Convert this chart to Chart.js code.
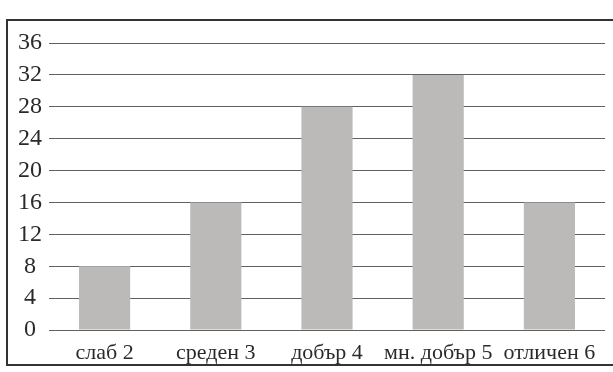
<!DOCTYPE html>
<html>
<head>
<meta charset="utf-8">
<script src="https://cdn.jsdelivr.net/npm/chart.js@4.4.0/dist/chart.umd.min.js"></script>
<style>
  body { margin: 0; background: #fff; }
  #wrap { position: relative; width: 613px; height: 372px; overflow: hidden; }
  #frame { position: absolute; left: 6px; top: 19px; width: 640px; height: 347px;
           border: 2px solid #333; box-sizing: border-box; pointer-events: none; }
</style>
</head>
<body>
<div id="wrap">
  <canvas id="Chart" width="613" height="372"></canvas>
  <div id="frame"></div>
</div>
<script>
// grades and number of students per grade
const grades = ['слаб 2', 'среден 3', 'добър 4', 'мн. добър 5', 'отличен 6'];
const counts = [8, 16, 28, 32, 16];
const yTicks = [0, 4, 8, 12, 16, 20, 24, 28, 32, 36];

const canvas = document.getElementById('Chart');
const ctx = canvas.getContext('2d');

var myChart = new Chart(ctx, {
  type: 'bar',
  data: {
    labels: grades,
    datasets: [{
      data: counts,
      backgroundColor: '#bcb9b9',
      borderWidth: 0,
      categoryPercentage: 1,
      barPercentage: 0.46
    }]
  },
  options: {
    responsive: false,
    animation: false,
    layout: { padding: { top: 43, left: 18, right: 8, bottom: 5 } },
    plugins: { legend: { display: false }, tooltip: { enabled: false } },
    scales: {
      x: {
        grid: { display: false, drawTicks: false },
        border: { display: false },
        afterFit: axis => { axis.height = 37; },
        ticks: {
          color: '#2a2a2a',
          font: { family: 'Liberation Serif', size: 22, lineHeight: 1 },
          maxRotation: 0,
          autoSkip: false,
          padding: 12
        }
      },
      y: {
        min: yTicks[0],
        max: yTicks[yTicks.length - 1],
        afterBuildTicks: axis => { axis.ticks = yTicks.map(v => ({ value: v })); },
        afterFit: axis => { axis.width = 31; },
        grid: { color: '#606060', lineWidth: 1, drawTicks: false },
        border: { display: false },
        ticks: {
          color: '#2a2a2a',
          font: { family: 'Liberation Serif', size: 24, lineHeight: 1 },
          autoSkip: false,
          padding: 7,
          crossAlign: 'center'
        }
      }
    }
  }
});
</script>
</body>
</html>
